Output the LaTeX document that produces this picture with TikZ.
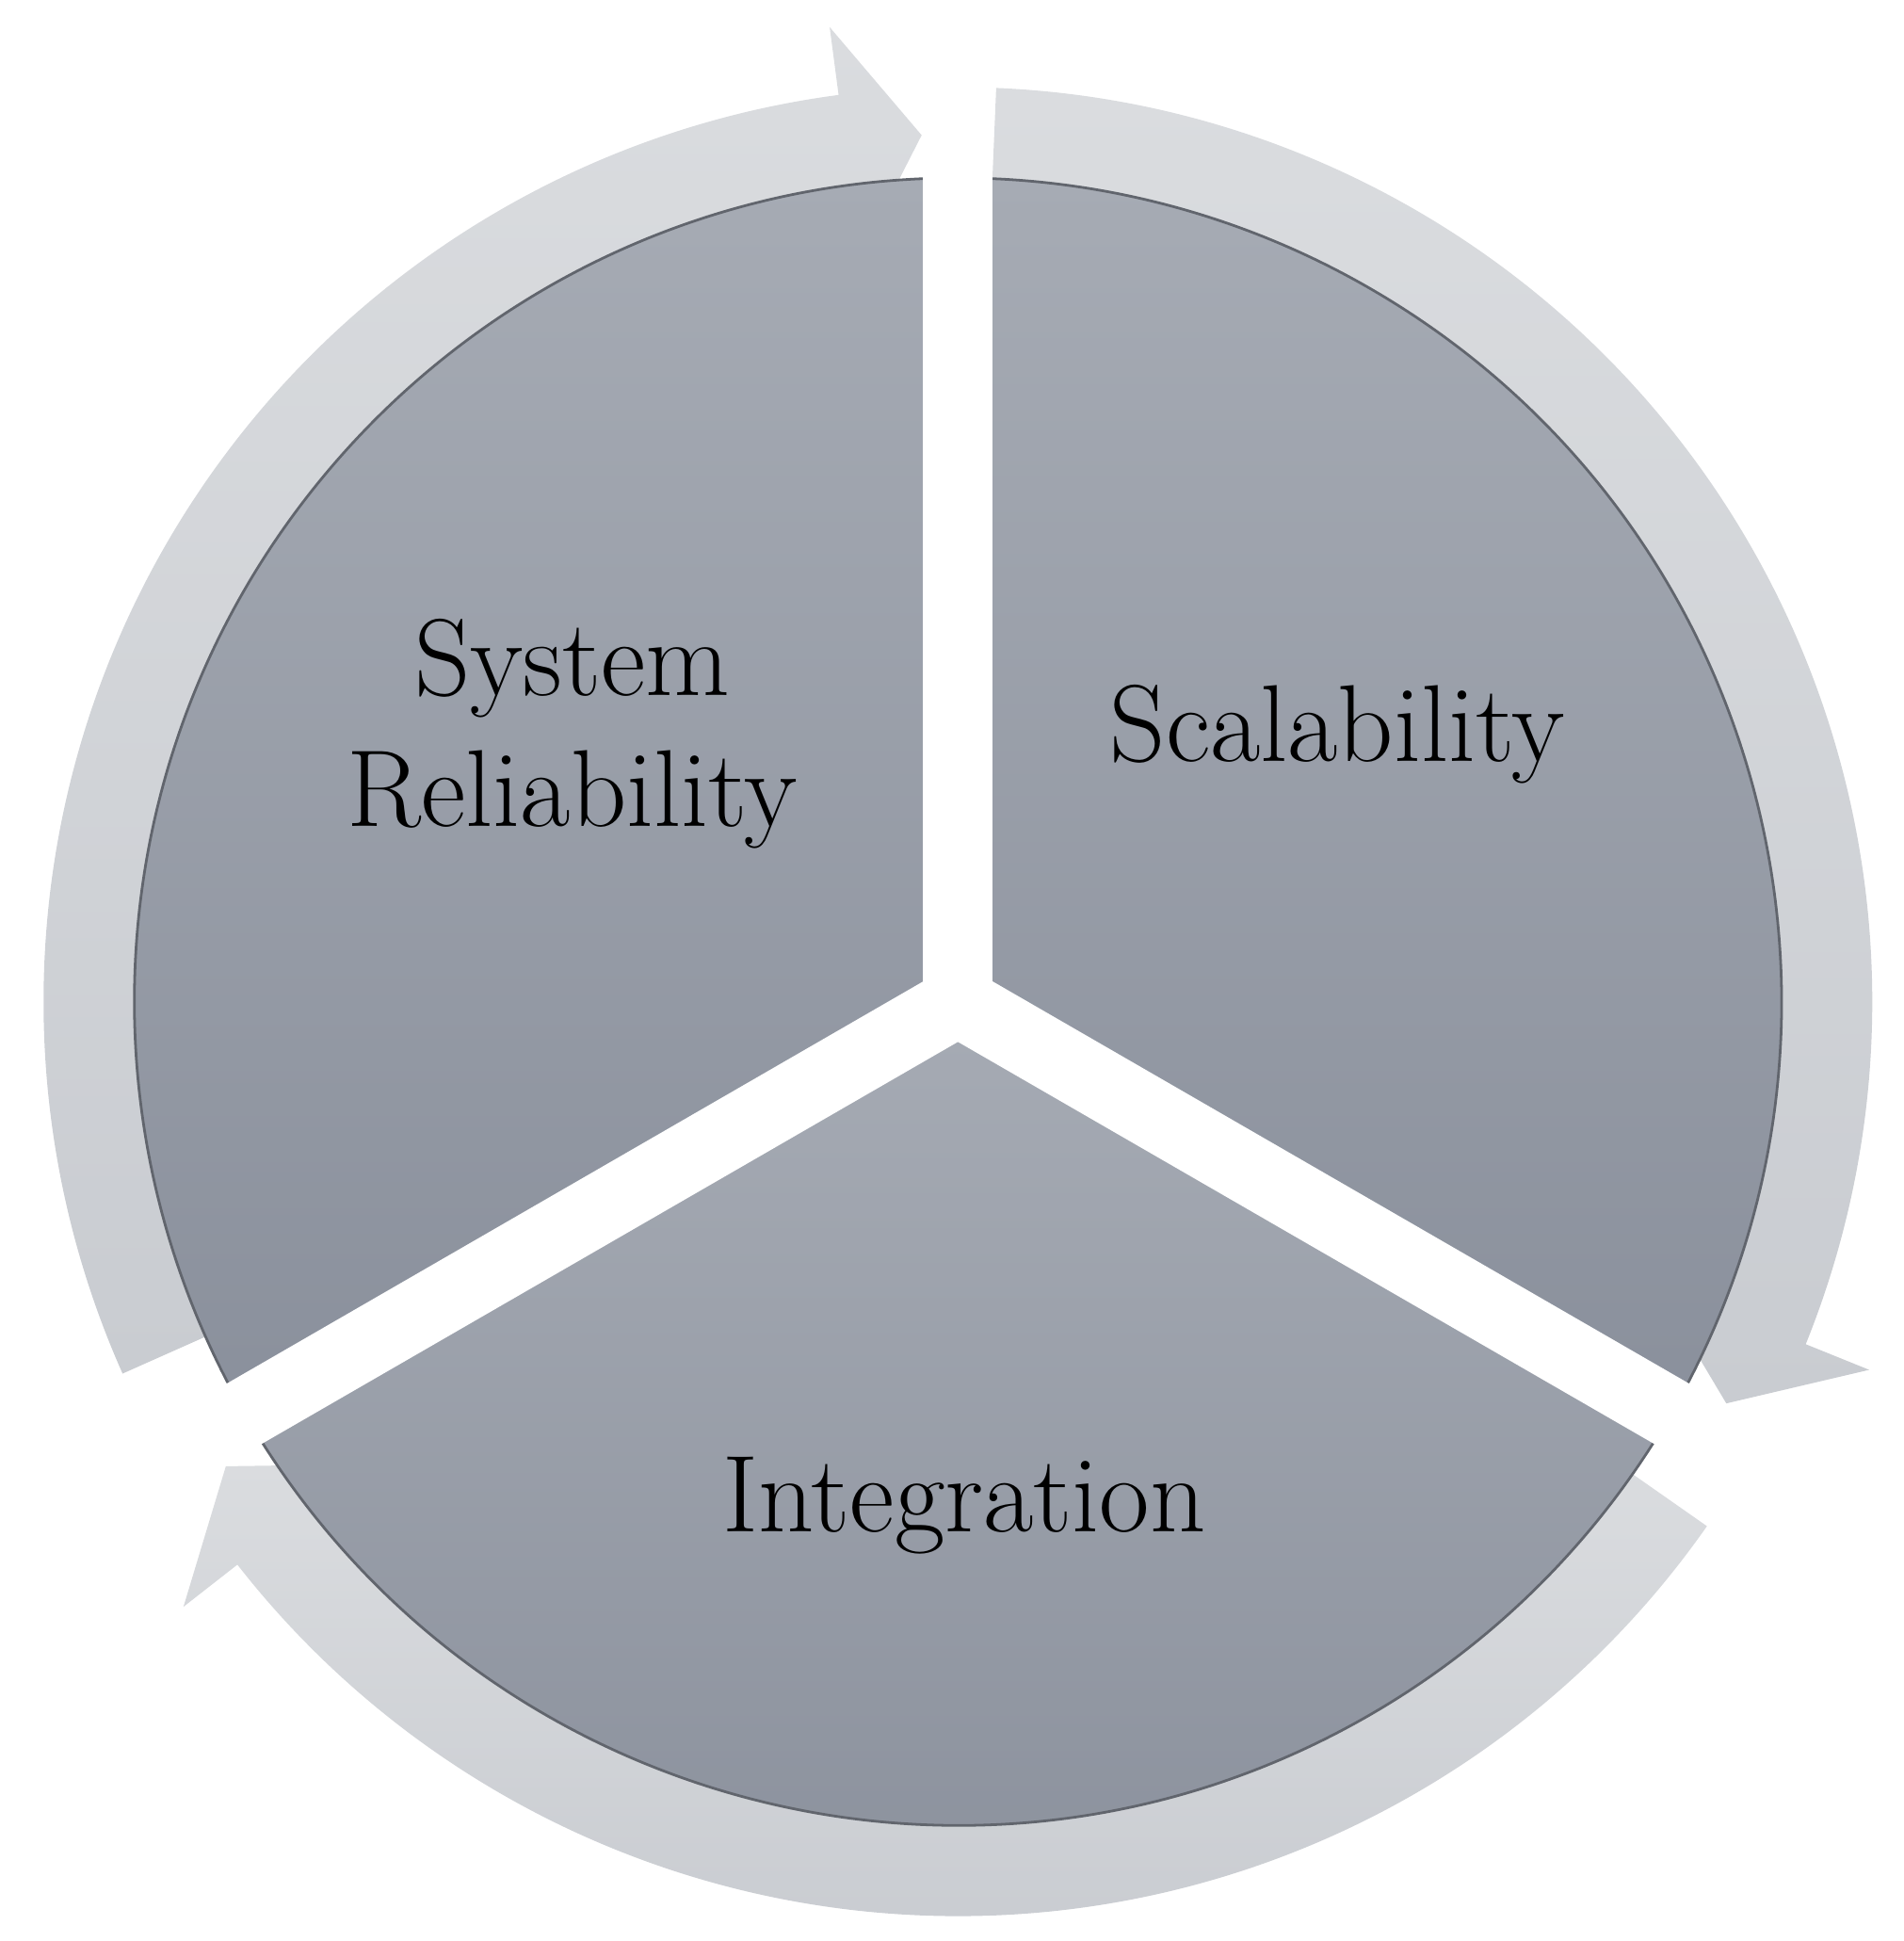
\documentclass[tikz,border=0pt]{standalone}
\usetikzlibrary{calc}
\begin{document}
\begin{tikzpicture}[x=0.01cm,y=0.01cm,
  seg/.style={top color=segtop,bottom color=segbot,draw=segbot!70!black,line width=0.6},
  ring/.style={top color=ringtop,bottom color=ringbot,draw=none},
  gap/.style={white,line width=0.56cm,line cap=butt},
  lab/.style={font=\fontsize{25}{30}\selectfont,align=center,text=black}]
\definecolor{segtop}{HTML}{A6ABB4}
\definecolor{segbot}{HTML}{8A909C}
\definecolor{ringtop}{HTML}{DADCDF}
\definecolor{ringbot}{HTML}{C9CCD1}
\useasboundingbox (0,0) rectangle (1530,-1560);
\coordinate (C) at (770,-805);
\newcommand{\ringarrow}[3]{%
  \path[ring,shift={(C)}] (#1:735) arc[start angle=#1,end angle=#2,radius=735]
   -- (#2:790) -- (#3:697) -- (#2:604) -- (#2:660)
   arc[start angle=#2,end angle=#1,radius=660] -- cycle;}
\ringarrow{204}{97.5}{92.4}
\ringarrow{87.6}{-22}{-27.6}
\ringarrow{-35}{-142}{-147.6}
\path[seg,shift={(C)}] (0,0) -- (90:662) arc[start angle=90,end angle=210,radius=662] -- cycle;
\path[seg,shift={(C)}] (0,0) -- (-30:662) arc[start angle=-30,end angle=90,radius=662] -- cycle;
\path[seg,shift={(C)}] (0,0) -- (210:662) arc[start angle=210,end angle=330,radius=662] -- cycle;
\coordinate (g1) at ($(C)+(90:820)$);
\coordinate (g2) at ($(C)+(210:820)$);
\coordinate (g3) at ($(C)+(330:820)$);
\draw[gap] (C) -- (g1);
\draw[gap] (C) -- (g2);
\draw[gap] (C) -- (g3);
\fill[white] (C) circle (28);
\node[lab] (sr) at (460,-590) {System\\Reliability};
\node[lab] (sc) at (1075,-590) {Scalability};
\node[lab] (in) at (775,-1210) {Integration};
\end{tikzpicture}
\end{document}
